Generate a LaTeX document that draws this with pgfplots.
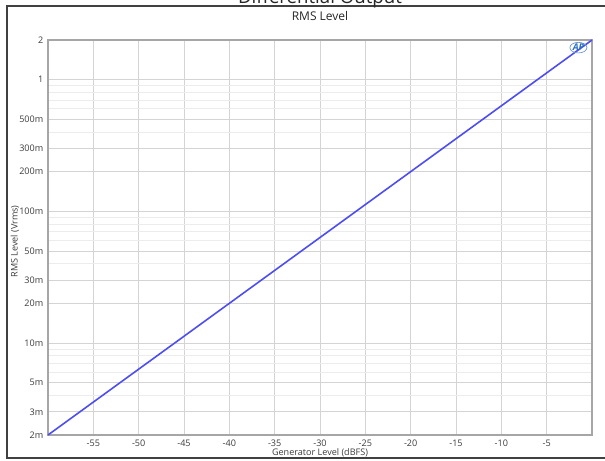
\documentclass[border=0pt]{standalone}
\usepackage{pgfplots}
\pgfplotsset{compat=1.18}
\usetikzlibrary{shapes.geometric}
\usepackage{fontspec}
\setmainfont{Open Sans}
\definecolor{trace}{RGB}{78,78,240}
\definecolor{majgrid}{RGB}{212,212,212}
\definecolor{mingrid}{RGB}{236,236,236}
\definecolor{txt}{RGB}{60,60,60}
\definecolor{logo}{RGB}{40,110,190}
\begin{document}
\begin{tikzpicture}
\useasboundingbox (0,0) rectangle (453.75pt,345pt);
\draw[line width=1.3pt, color=black!75] (5.25pt,1.5pt) rectangle (470pt,340.5pt);
\node[font=\fontsize{14}{16}\selectfont, anchor=base, color=black!85] at (240pt,342pt) {Differential Output};
\begin{axis}[
  at={(36pt,18.75pt)}, anchor=south west,
  scale only axis, width=408pt, height=296.25pt,
  xmin=-60, xmax=0,
  ymode=log, ymin=0.002, ymax=2,
  log basis y=10,
  xtick={-55,-50,-45,-40,-35,-30,-25,-20,-15,-10,-5},
  ytick={0.002,0.003,0.005,0.01,0.02,0.03,0.05,0.1,0.2,0.3,0.5,1,2},
  yticklabels={2m,3m,5m,10m,20m,30m,50m,100m,200m,300m,500m,1,2},
  minor ytick={0.004,0.006,0.007,0.008,0.009,0.04,0.06,0.07,0.08,0.09,0.4,0.6,0.7,0.8,0.9},
  grid=both,
  major grid style={majgrid, line width=0.6pt},
  minor grid style={mingrid, line width=0.6pt},
  major tick length=0pt, minor tick length=0pt,
  axis line style={draw=black!35, line width=1pt},
  tick label style={font=\fontsize{6.8}{8}\selectfont, color=txt},
  /pgf/number format/assume math mode=true,
  title={RMS Level},
  title style={font=\fontsize{9}{11}\selectfont, color=black!85, at={(axis description cs:0.5,1)}, anchor=base, yshift=8.5pt},
  xlabel={Generator Level (dBFS)},
  xlabel style={font=\fontsize{6.8}{8}\selectfont, color=txt, at={(axis description cs:0.5,-0.046)}, anchor=center},
  ylabel={RMS Level (Vrms)},
  ylabel style={font=\fontsize{6.8}{8}\selectfont, color=txt, at={(axis description cs:-0.061,0.49)}, anchor=center},
  clip=false,
]
\addplot[trace, line width=1.2pt] coordinates {
(-60,0.002000) (-58,0.002518) (-56,0.003170) (-54,0.003991) (-52,0.005024)
(-50,0.006325) (-48,0.007962) (-46,0.010024) (-44,0.012619) (-42,0.015887)
(-40,0.020000) (-38,0.025179) (-36,0.031698) (-34,0.039905) (-32,0.050238)
(-30,0.063246) (-28,0.079621) (-26,0.100237) (-24,0.126191) (-22,0.158866)
(-20,0.200000) (-18,0.251785) (-16,0.316979) (-14,0.399052) (-12,0.502377)
(-10,0.632456) (-8,0.796214) (-6,1.002374) (-4,1.261915) (-2,1.588656)
(0,2.000000)
};
\node[font=\bfseries\itshape\fontsize{7}{8}\selectfont, color=logo, draw=logo!70, ellipse, inner sep=0.3pt, line width=0.5pt] at (axis cs:-1.5,1.75) {AP};
\end{axis}
\end{tikzpicture}
\end{document}
